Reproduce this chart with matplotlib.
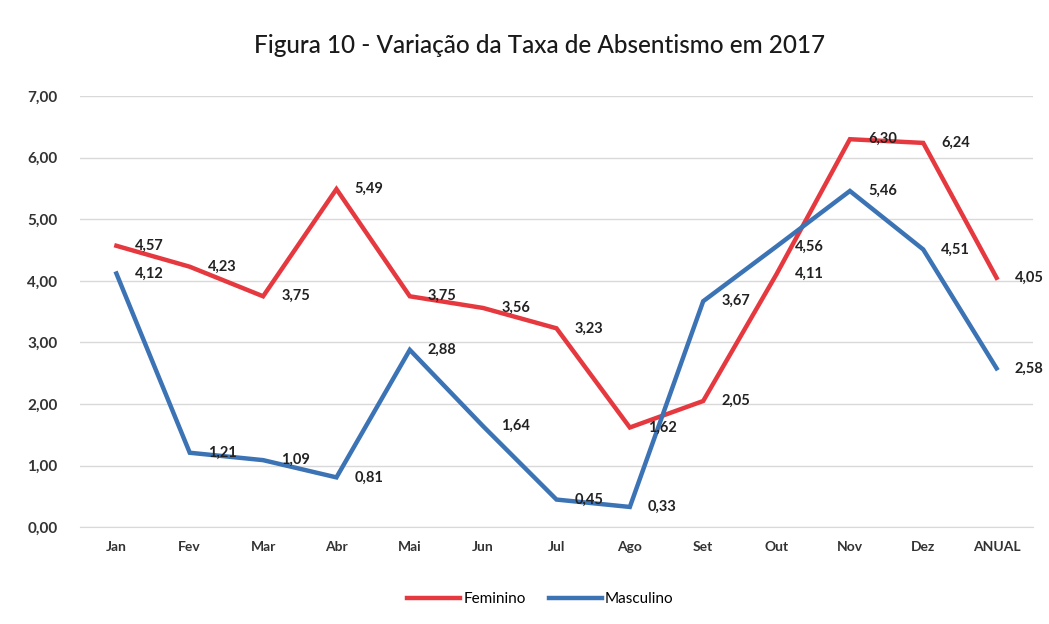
import matplotlib.pyplot as plt
from matplotlib.ticker import FuncFormatter

plt.rcParams['font.family'] = ['Lato', 'DejaVu Sans']

meses = ["Jan", "Fev", "Mar", "Abr", "Mai", "Jun", "Jul", "Ago", "Set", "Out", "Nov", "Dez", "ANUAL"]
feminino = [4.57, 4.23, 3.75, 5.49, 3.75, 3.56, 3.23, 1.62, 2.05, 4.11, 6.30, 6.24, 4.05]
masculino = [4.12, 1.21, 1.09, 0.81, 2.88, 1.64, 0.45, 0.33, 3.67, 4.56, 5.46, 4.51, 2.58]

cor_fem = "#E5393F"
cor_masc = "#3B73B5"

fig = plt.figure(figsize=(10.49, 6.24), dpi=100)
ax = fig.add_axes([0.076, 0.155, 0.909, 0.691])

x = range(len(meses))
ax.plot(x, feminino, color=cor_fem, lw=3.2, label="Feminino", solid_joinstyle="miter")
ax.plot(x, masculino, color=cor_masc, lw=3.2, label="Masculino", solid_joinstyle="miter")

# rótulos de dados à direita dos pontos
for serie in (feminino, masculino):
    for i, v in enumerate(serie):
        ax.annotate(f"{v:.2f}".replace(".", ","), (i, v), xytext=(13, 0),
                    textcoords="offset points", ha="left", va="center",
                    fontsize=10.5, fontweight="bold", color="#222222")

ax.set_xlim(-0.5, len(meses) - 0.5)
ax.set_ylim(0, 7)
ax.set_yticks(range(8))
ax.yaxis.set_major_formatter(FuncFormatter(lambda v, p: f"{v:.2f}".replace(".", ",")))
ax.set_xticks(list(x))
ax.set_xticklabels(meses)
ax.tick_params(length=0, labelcolor="#333333")
ax.tick_params(axis="x", labelsize=10, pad=10)
ax.tick_params(axis="y", labelsize=11, pad=16)
for lab in ax.get_xticklabels() + ax.get_yticklabels():
    lab.set_fontweight("bold")

ax.grid(axis="y", color="#D9D9D9", lw=1)
ax.set_axisbelow(True)
for s in ["top", "right", "left"]:
    ax.spines[s].set_visible(False)
ax.spines["bottom"].set_color("#D9D9D9")

fig.suptitle("Figura 10 - Variação da Taxa de Absentismo em 2017", x=0.514, y=0.945,
             fontsize=17.5, fontweight="medium", color="#1a1a1a")

fig.legend(loc="center", bbox_to_anchor=(0.515, 0.04), ncol=2, frameon=False,
           fontsize=11, handlelength=3.5, handletextpad=0.2, columnspacing=1.5)

fig.savefig("out.png", dpi=100)
